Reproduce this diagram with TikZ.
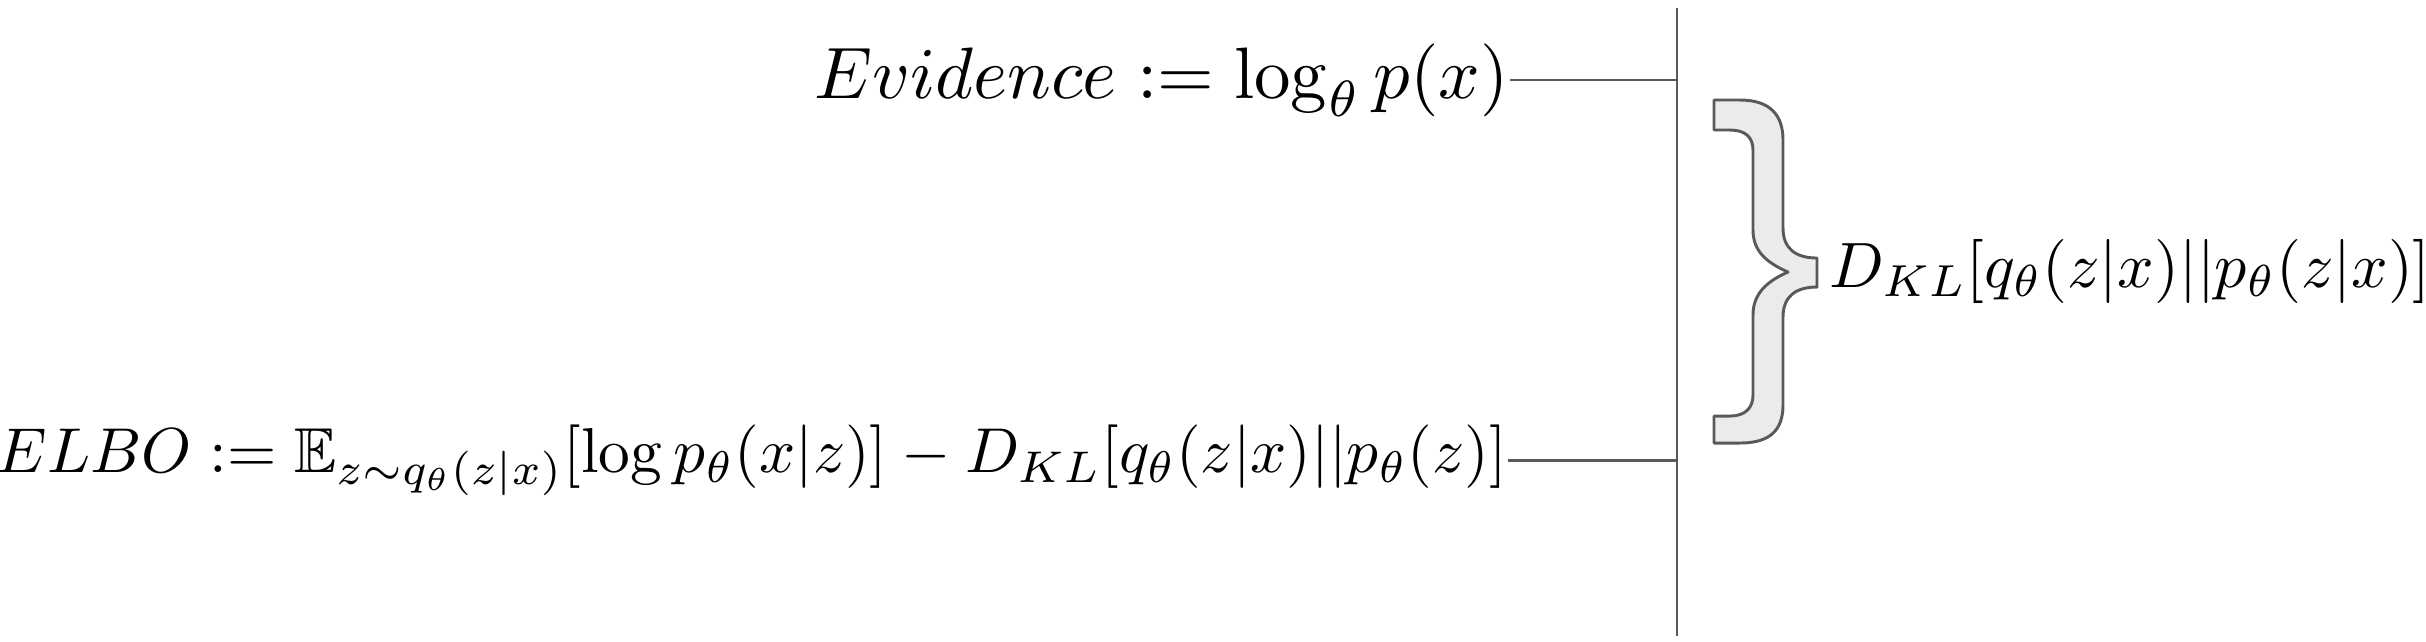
\documentclass[tikz,border=0pt]{standalone}
\usepackage{amsmath,amssymb}
\begin{document}
\begin{tikzpicture}[
        x=0.0054cm, y=-0.0054cm,
        formula/.style={inner sep=0pt, font=\normalsize},
        rule/.style={draw=black!65, line width=0.45pt},
        curly/.style={draw=black!65, fill=black!8, line width=0.45pt, line join=round}
    ]
    \useasboundingbox (0,0) rectangle (2426,641);

    \node[formula, anchor=east, scale=1.12] (evidence) at (1510,80) {$Evidence := \log_{\theta} p(x)$};
    \node[formula, anchor=east, scale=0.975] (elbo) at (1508,460) {$ELBO := \mathbb{E}_{z\sim q_{\theta}(z|x)}[\log p_{\theta}(x|z)] - D_{KL}[q_{\theta}(z|x)||p_{\theta}(z)]$};
    \node[formula, anchor=west, scale=0.985] (kl) at (1828,271) {$D_{KL}[q_{\theta}(z|x)||p_{\theta}(z|x)]$};

    \coordinate (axtop) at (1677,8);
    \coordinate (axbot) at (1677,636);

    \draw[rule] (axtop) -- (axbot);
    \draw[rule] (evidence.east) -- (evidence.east -| axtop);
    \draw[rule] (elbo.east) -- (elbo.east -| axtop);

    % brace between the two levels
    \draw[curly] (1714,100) -- (1740,100) .. controls (1770,100) and (1783,115) .. (1783,140)
        -- (1783,228) .. controls (1783,248) and (1795,258) .. (1817,258)
        -- (1817,287) .. controls (1795,287) and (1783,297) .. (1783,317)
        -- (1783,405) .. controls (1783,430) and (1770,443) .. (1740,443)
        -- (1714,443) -- (1714,416) -- (1730,416) .. controls (1745,416) and (1753,408) .. (1753,395)
        -- (1753,315) .. controls (1753,295) and (1765,282) .. (1788,272)
        .. controls (1765,262) and (1753,250) .. (1753,230)
        -- (1753,150) .. controls (1753,137) and (1745,130) .. (1730,130)
        -- (1714,130) -- cycle;

\end{tikzpicture}
\end{document}
